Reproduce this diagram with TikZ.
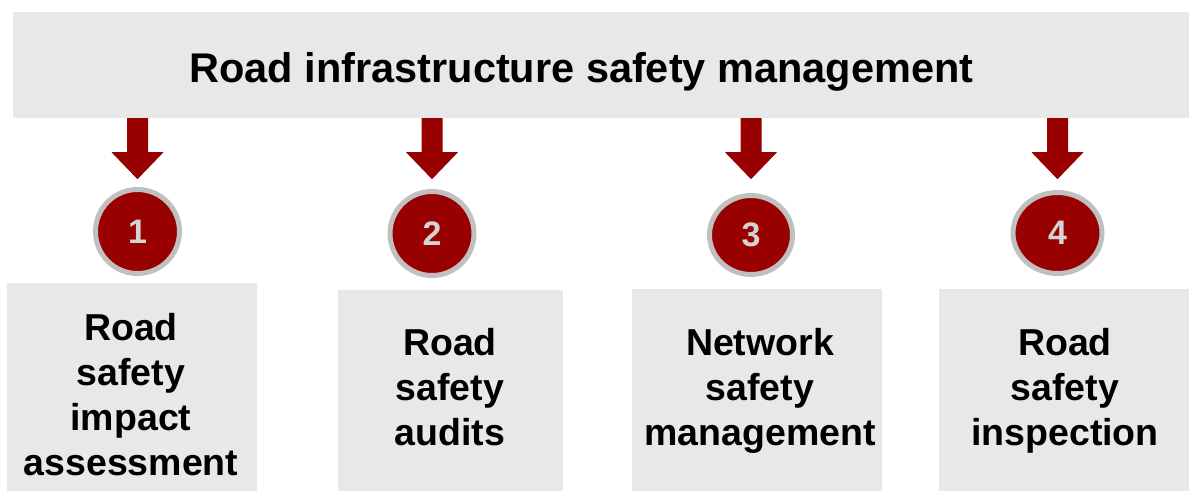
\documentclass[tikz,border=0pt]{standalone}
\usepackage{fontspec}
\setmainfont{Liberation Sans}
\usetikzlibrary{shapes.geometric}
\definecolor{panelgray}{HTML}{E8E8E8}
\definecolor{darkred}{HTML}{990000}
\definecolor{ringgray}{HTML}{C0C0C0}
\definecolor{digitgray}{HTML}{D4D4D4}
\tikzset{
  panel/.style={fill=panelgray, draw=none, inner sep=0pt, rectangle},
  boxtext/.style={align=center, font=\fontsize{37.5}{45}\selectfont\bfseries, text=black, inner sep=0pt},
  badge/.style={ellipse, fill=darkred, draw=ringgray, line width=5pt, inner sep=0pt,
     font=\fontsize{34}{40}\selectfont\bfseries, text=digitgray},
  blockarrow/.style={fill=darkred, draw=none}
}
\newcommand\arrowdown[1]{%
  \fill[blockarrow, shift={(banner.south -| #1.center)}]
    (-10.5,0) -- (10.5,0) -- (10.5,34) -- (26,34) -- (0,61) -- (-26,34) -- (-10.5,34) -- cycle;}
\begin{document}
\begin{tikzpicture}[x=1pt,y=-1pt]
\useasboundingbox (0,0) rectangle (1189,491);
% banner
\node[panel, minimum width=1176pt, minimum height=106pt] (banner) at (601,65) {};
\node[anchor=base, font=\fontsize{41.5}{48}\selectfont\bfseries, inner sep=0pt] (title) at (581.5,82) {Road infrastructure safety management};
% boxes
\node[panel, minimum width=250pt, minimum height=208pt] (b1) at (132,387) {};
\node[panel, minimum width=225pt, minimum height=201pt] (b2) at (450.5,390.5) {};
\node[panel, minimum width=250pt, minimum height=202pt] (b3) at (757,390) {};
\node[panel, minimum width=250pt, minimum height=202pt] (b4) at (1064,390) {};
\node[boxtext] (t1) at (131,395) {Road\\safety\\impact\\assessment};
\node[boxtext] (t2) at (450,387) {Road\\safety\\audits};
\node[boxtext] (t3) at (760,391) {Network\\safety\\management};
\node[boxtext] (t4) at (1065,391) {Road\\safety\\inspection};
% badges
\node[badge, minimum width=84pt, minimum height=84pt] (c1) at (137.5,231.5) {1};
\node[badge, minimum width=84pt, minimum height=84pt] (c2) at (432,233.5) {2};
\node[badge, minimum width=83pt, minimum height=79pt] (c3) at (751,235) {3};
\node[badge, minimum width=89pt, minimum height=81pt] (c4) at (1057.5,233) {4};
% arrows
\arrowdown{c1}
\arrowdown{c2}
\arrowdown{c3}
\arrowdown{c4}
\end{tikzpicture}
\end{document}
